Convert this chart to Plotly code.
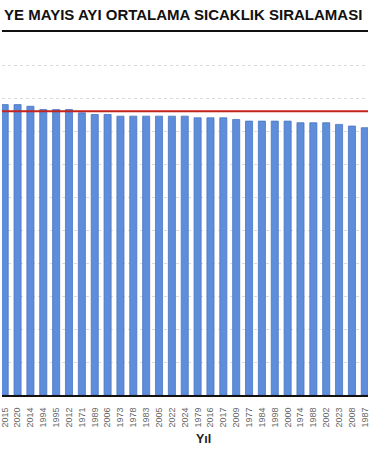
import plotly.graph_objects as go

years = ["2015", "2020", "2014", "1994", "1995", "2012", "1971", "1989", "2006", "1973",
         "1978", "1983", "2005", "2022", "2024", "1979", "2016", "2017", "2009", "1977",
         "1984", "1998", "2000", "1974", "1988", "2002", "2023", "2008", "1987"]
temps = [17.6, 17.6, 17.5, 17.3, 17.3, 17.3, 17.1, 17.0, 17.0, 16.9,
         16.9, 16.9, 16.9, 16.9, 16.9, 16.8, 16.8, 16.8, 16.7, 16.6,
         16.6, 16.6, 16.6, 16.5, 16.5, 16.5, 16.4, 16.3, 16.2]
ref_value = 17.2
title_text = "YE MAYIS AYI ORTALAMA SICAKLIK SIRALAMASI"
x_title = "Yıl"

W, H = 370, 450
top, bottom = 35, 55
plot_h = H - top - bottom
ymax = plot_h / 16.5

def py(pix):
    return (H - bottom - pix) / plot_h

fig = go.Figure()
fig.add_trace(go.Bar(
    x=years, y=temps,
    marker=dict(color="#5d8ddb", line=dict(color="#4b76c0", width=0.8)),
    hoverinfo="x+y",
))

fig.add_shape(type="line", xref="paper", yref="y", x0=0, x1=1, y0=ref_value, y1=ref_value,
              line=dict(color="#c4221c", width=2), layer="above")
fig.add_shape(type="line", xref="paper", yref="paper", x0=0, x1=1, y0=py(31), y1=py(31),
              line=dict(color="#111111", width=2))

fig.add_annotation(text="<b>" + title_text + "</b>", xref="paper", yref="paper",
                   x=0, y=py(15), xanchor="left", yanchor="middle", showarrow=False,
                   font=dict(family="Liberation Sans, Arial", size=15, color="#111111"))
fig.add_annotation(text="<b>" + x_title + "</b>", xref="paper", yref="paper",
                   x=204 / W, y=py(439), xanchor="center", yanchor="middle", showarrow=False,
                   font=dict(family="Liberation Sans, Arial", size=12.5, color="#222222"))

fig.update_layout(
    width=W, height=H,
    margin=dict(l=0, r=0, t=top, b=bottom, pad=0),
    paper_bgcolor="white", plot_bgcolor="white",
    showlegend=False,
    bargap=0.45,
    xaxis=dict(
        type="category", range=[-0.21, 28.25],
        showgrid=False, showline=True, linecolor="#111111", linewidth=2,
        tickangle=-90, tickfont=dict(family="Liberation Sans, Arial", size=9, color="#666666"),
        ticks="", ticklabelstandoff=7, fixedrange=True,
    ),
    yaxis=dict(
        range=[0, ymax], dtick=2, showticklabels=False, zeroline=False,
        showgrid=True, gridcolor="#dadada", griddash="3px,3px", gridwidth=1,
        fixedrange=True,
    ),
)

fig.write_html("out.html")
